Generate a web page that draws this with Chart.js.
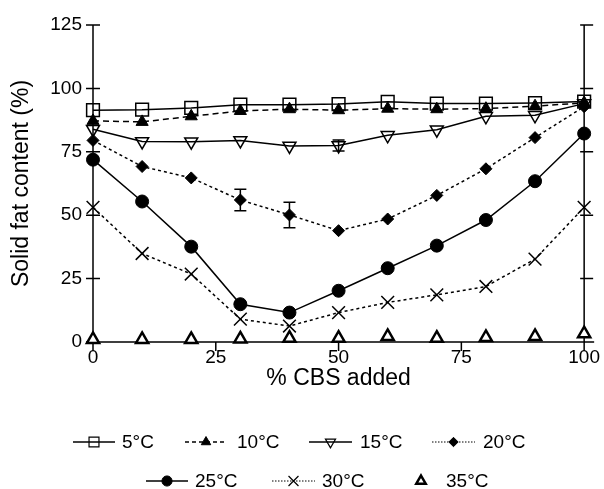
<!DOCTYPE html>
<html>
<head>
<meta charset="utf-8">
<script src="https://cdn.jsdelivr.net/npm/chart.js@4.4.0/dist/chart.umd.min.js"></script>
<style>
  html, body { margin: 0; padding: 0; background: #fff; }
  #wrap { width: 604px; height: 489px; }
</style>
</head>
<body>
<div id="wrap"><canvas id="sfcChart" width="604" height="489"></canvas></div>
<script>
// data
var cbsAdded = [0, 10, 20, 30, 40, 50, 60, 70, 80, 90, 100];
var sfc5  = [91.4, 91.6, 92.3, 93.6, 93.6, 93.8, 94.7, 94.0, 94.0, 94.2, 94.8];
var sfc10 = [87.2, 86.8, 89.0, 91.1, 91.8, 91.4, 92.0, 91.8, 92.0, 93.0, 94.3];
var sfc15 = [83.9, 79.1, 79.0, 79.5, 77.3, 77.5, 81.5, 83.7, 89.0, 89.4, 94.0];
var sfc20 = [79.5, 69.2, 64.7, 56.0, 50.1, 43.9, 48.5, 57.8, 68.3, 80.6, 92.8];
var sfc25 = [71.9, 55.4, 37.6, 14.9, 11.6, 20.2, 29.1, 38.0, 48.1, 63.4, 82.2];
var sfc30 = [53.1, 34.9, 26.8, 9.0, 6.3, 11.6, 15.6, 18.6, 21.9, 32.7, 53.1];
var sfc35 = [1.0, 1.0, 1.0, 1.2, 1.5, 1.5, 2.2, 1.5, 1.8, 2.2, 3.3];
// standard deviations where the bars are visible
var err15 = [0, 0, 0, 0, 0, 2.2, 0, 0, 0, 0, 0];
var err20 = [0, 0, 0, 4.2, 5.0, 0, 0, 0, 0, 0, 0];
var seriesLabels = ['5°C', '10°C', '15°C', '20°C', '25°C', '30°C', '35°C'];
var xTicks = [0, 25, 50, 75, 100];
var yTicks = [0, 25, 50, 75, 100, 125];

var FONT = "'Liberation Sans', Arial, sans-serif";

function pts(arr) {
    return cbsAdded.map(function (x, i) { return { x: x, y: arr[i] }; });
}

// line / marker look of each series
var looks = [
    { values: sfc5,  dash: [],     style: 'rect',     r: 9,   rot: 0,   fill: 'rgba(0,0,0,0)', bw: 1.5, line: true },
    { values: sfc10, dash: [6, 4], style: 'triangle', r: 7,   rot: 0,   fill: '#000',          bw: 1,   line: true },
    { values: sfc15, dash: [],     style: 'triangle', r: 7.5, rot: 180, fill: 'rgba(0,0,0,0)', bw: 1.5, line: true },
    { values: sfc20, dash: [3, 3], style: 'rectRot',  r: 6,   rot: 0,   fill: '#000',          bw: 1,   line: true },
    { values: sfc25, dash: [],     style: 'circle',   r: 6.5, rot: 0,   fill: '#000',          bw: 1,   line: true },
    { values: sfc30, dash: [3, 3], style: 'crossRot', r: 9,   rot: 0,   fill: '#000',          bw: 1.5, line: true },
    { values: sfc35, dash: [],     style: 'triangle', r: 7,   rot: 0,   fill: '#fff',          bw: 2.5, line: false }
];

var datasets = looks.map(function (lk, i) {
    return {
        label: seriesLabels[i],
        data: pts(lk.values),
        showLine: lk.line,
        borderColor: '#000',
        borderWidth: 1.5,
        borderDash: lk.dash,
        tension: 0,
        fill: false,
        pointStyle: lk.style,
        pointRadius: lk.r,
        pointHoverRadius: lk.r,
        pointRotation: lk.rot,
        pointBackgroundColor: lk.fill,
        pointBorderColor: '#000',
        pointBorderWidth: lk.bw,
        clip: false,
        order: looks.length - i
    };
});

// legend placement (px)
var legendSlots = [
    { x0: 73,  x1: 115, tx: 122, y: 442 },
    { x0: 185, x1: 227, tx: 237, y: 442 },
    { x0: 309, x1: 352, tx: 360, y: 442 },
    { x0: 432, x1: 475, tx: 483, y: 442 },
    { x0: 146, x1: 188, tx: 195, y: 481 },
    { x0: 272, x1: 315, tx: 322, y: 481 },
    { x0: 400, x1: 442, tx: 446, y: 481 }
];

function marker(ctx, style, x, y, r, rot, fill, bw) {
    ctx.save();
    ctx.translate(x, y);
    ctx.rotate(rot * Math.PI / 180);
    ctx.beginPath();
    if (style === 'rect') {
        var s = r * Math.SQRT1_2;
        ctx.rect(-s, -s, 2 * s, 2 * s);
    } else if (style === 'triangle') {
        ctx.moveTo(0, -r);
        ctx.lineTo(r * Math.sin(2 * Math.PI / 3), -r * Math.cos(2 * Math.PI / 3));
        ctx.lineTo(r * Math.sin(4 * Math.PI / 3), -r * Math.cos(4 * Math.PI / 3));
        ctx.closePath();
    } else if (style === 'rectRot') {
        ctx.moveTo(-r, 0); ctx.lineTo(0, -r); ctx.lineTo(r, 0); ctx.lineTo(0, r);
        ctx.closePath();
    } else if (style === 'circle') {
        ctx.arc(0, 0, r, 0, Math.PI * 2);
    } else if (style === 'crossRot') {
        var c = r * Math.SQRT1_2;
        ctx.moveTo(-c, -c); ctx.lineTo(c, c);
        ctx.moveTo(c, -c); ctx.lineTo(-c, c);
    }
    ctx.setLineDash([]);
    ctx.lineWidth = bw;
    ctx.strokeStyle = '#000';
    if (style !== 'crossRot') { ctx.fillStyle = fill; ctx.fill(); }
    ctx.stroke();
    ctx.restore();
}

// axes, ticks and error bars
var framePlugin = {
    id: 'frame',
    beforeDatasetsDraw: function (chart) {
        var ctx = chart.ctx, a = chart.chartArea;
        var xs = chart.scales.x, ys = chart.scales.y;
        ctx.save();
        ctx.strokeStyle = '#000';
        ctx.lineWidth = 1.5;
        ctx.beginPath();
        ctx.moveTo(a.left, a.top); ctx.lineTo(a.left, a.bottom);
        ctx.moveTo(a.right, a.top); ctx.lineTo(a.right, a.bottom);
        ctx.moveTo(a.left - 7, a.bottom); ctx.lineTo(a.right + 10, a.bottom);
        yTicks.forEach(function (v) {
            var py = ys.getPixelForValue(v);
            ctx.moveTo(a.left - 7, py); ctx.lineTo(a.left + 7, py);
            ctx.moveTo(a.right - 4, py); ctx.lineTo(a.right + 9, py);
        });
        xTicks.forEach(function (v) {
            var px = xs.getPixelForValue(v);
            ctx.moveTo(px, a.bottom); ctx.lineTo(px, a.bottom + 9);
        });
        ctx.stroke();

        // error bars
        [[sfc15, err15], [sfc20, err20]].forEach(function (pair) {
            pair[1].forEach(function (e, i) {
                if (!e) return;
                var px = xs.getPixelForValue(cbsAdded[i]);
                var top = ys.getPixelForValue(pair[0][i] + e);
                var bot = ys.getPixelForValue(pair[0][i] - e);
                ctx.beginPath();
                ctx.moveTo(px, top); ctx.lineTo(px, bot);
                ctx.moveTo(px - 6, top); ctx.lineTo(px + 6, top);
                ctx.moveTo(px - 6, bot); ctx.lineTo(px + 6, bot);
                ctx.stroke();
            });
        });
        ctx.restore();
    },
    afterDraw: function (chart) {
        var ctx = chart.ctx;
        ctx.save();
        ctx.font = '19px ' + FONT;
        ctx.fillStyle = '#000';
        ctx.textBaseline = 'middle';
        ctx.textAlign = 'left';
        legendSlots.forEach(function (slot, i) {
            var lk = looks[i];
            var mid = (slot.x0 + slot.x1) / 2;
            if (lk.line) {
                ctx.beginPath();
                var dotted = lk.dash.length && lk.dash[0] < 5;
                ctx.setLineDash(lk.dash.length ? (dotted ? [1.5, 1.5] : [4, 3]) : []);
                ctx.lineWidth = dotted ? 1 : 1.5;
                ctx.strokeStyle = '#000';
                ctx.moveTo(slot.x0, slot.y); ctx.lineTo(slot.x1, slot.y);
                ctx.stroke();
            }
            marker(ctx, lk.style, mid, slot.y, lk.r * 0.78, lk.rot, lk.fill, Math.min(lk.bw, 1.2) + (i === 6 ? 1.3 : 0));
            ctx.fillText(seriesLabels[i], slot.tx, slot.y + 1);
        });
        ctx.restore();
    }
};

var ctx = document.getElementById('sfcChart').getContext('2d');
var sfcChart = new Chart(ctx, {
    type: 'scatter',
    data: { datasets: datasets },
    options: {
        responsive: false,
        animation: false,
        events: [],
        layout: { padding: { left: 0, right: 18, top: 25, bottom: 97 } },
        plugins: { legend: { display: false }, tooltip: { enabled: false } },
        scales: {
            x: {
                type: 'linear',
                min: 0, max: 100,
                grid: { display: false, drawTicks: false },
                border: { display: false },
                afterBuildTicks: function (scale) { scale.ticks = xTicks.map(function (v) { return { value: v }; }); },
                afterFit: function (scale) { scale.height = 50; },
                ticks: { color: '#000', padding: 4, font: { family: FONT, size: 19 } },
                title: { display: true, text: '% CBS added', color: '#000', padding: 0, font: { family: FONT, size: 23 } }
            },
            y: {
                type: 'linear',
                min: 0, max: 125,
                grid: { display: false, drawTicks: false },
                border: { display: false },
                afterBuildTicks: function (scale) { scale.ticks = yTicks.map(function (v) { return { value: v }; }); },
                afterFit: function (scale) { scale.width = 93; },
                ticks: { color: '#000', padding: 11, font: { family: FONT, size: 19 } },
                title: { display: true, text: 'Solid fat content (%)', color: '#000', padding: { top: 8, bottom: 0 }, font: { family: FONT, size: 23 } }
            }
        }
    },
    plugins: [framePlugin]
});
</script>
</body>
</html>
